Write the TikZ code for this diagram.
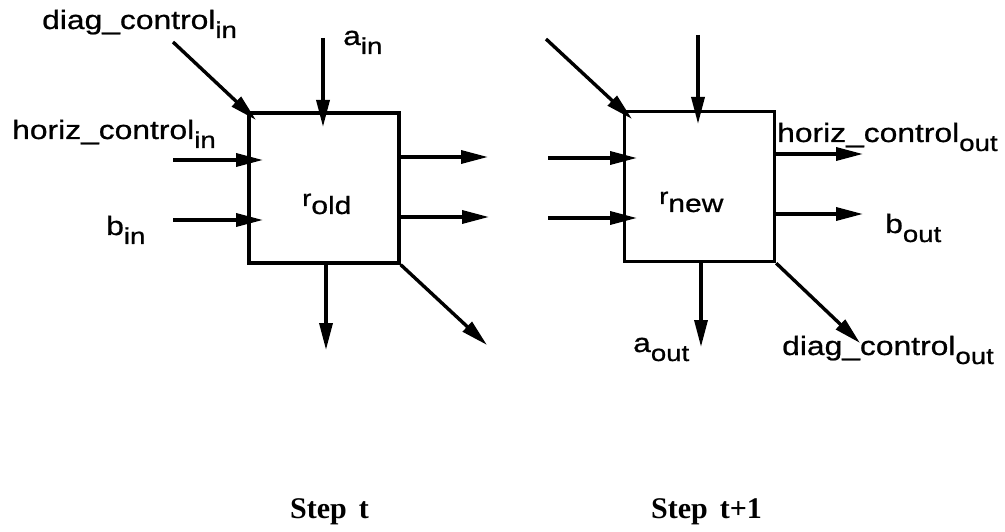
\documentclass[tikz,border=0pt]{standalone}
\usepackage{fontspec}
\usetikzlibrary{arrows.meta}
\newfontfamily\lblfont{Liberation Sans}[FakeStretch=1.2, FakeBold=0.8]
\newfontfamily\stepfont{Liberation Serif}
\newcommand\subtxt[1]{\raisebox{-9pt}{\fontsize{23}{27}\selectfont #1}}
\newcommand\regtxt[1]{\raisebox{-8pt}{\fontsize{25}{29}\selectfont #1}}
\tikzset{
  lbl/.style={inner sep=0pt, anchor=base west, font=\lblfont\fontsize{26.5}{30}\selectfont},
  steplbl/.style={inner sep=0pt, anchor=base west, font=\stepfont\bfseries\fontsize{30}{34}\selectfont},
  cell/.style={draw, line width=3.4pt, minimum width=150pt, minimum height=150pt, inner sep=0pt},
  arr/.style={line width=3.4pt, -{Triangle[length=27pt,width=13pt]}},
}
\begin{document}
\begin{tikzpicture}[x=1pt,y=-1pt]
\useasboundingbox (0,0) rectangle (1005,532);

% the two register cells
\node[cell] (old) at (324,188) {};
\node[cell] (new) at (699.5,186.5) {};

% labels of step t
\node[lbl] (dci) at (42,29) {diag\_control\subtxt{in}};
\node[lbl] (ain) at (343,45) {a\subtxt{in}};
\node[lbl] (hci) at (12,139) {horiz\_control\subtxt{in}};
\node[lbl] (bin) at (106,235) {b\subtxt{in}};
\node[lbl, font=\lblfont\fontsize{23}{27}\selectfont] (rold) at (302,206) {r\regtxt{old}};

% labels of step t+1
\node[lbl, font=\lblfont\fontsize{23}{27}\selectfont] (rnew) at (659,204) {r\regtxt{new}};
\node[lbl] (hco) at (777,142) {horiz\_control\subtxt{out}};
\node[lbl] (bout) at (885,233) {b\subtxt{out}};
\node[lbl] (aout) at (633,352) {a\subtxt{out}};
\node[lbl] (dco) at (782,355) {diag\_control\subtxt{out}};

\node[steplbl] (st) at (290,518) {Step\hspace{12pt}t};
\node[steplbl] (st1) at (651,518) {Step\hspace{12pt}t+1};

% free ends of the connectors, step t
\coordinate (Ld0) at (173,42);   \coordinate (Ld1) at (256,120);
\coordinate (La0) at (323,38);   \coordinate (La1) at (323,127);
\coordinate (Lh0) at (173,160);  \coordinate (Lh1) at (263,160);
\coordinate (Lb0) at (173,220);  \coordinate (Lb1) at (263,220);
\coordinate (Lo1) at (488,157);
\coordinate (Lo2) at (489,217);
\coordinate (Lv1) at (326,350);
\coordinate (Lx1) at (487,345);

% free ends of the connectors, step t+1
\coordinate (Rd0) at (546,39);   \coordinate (Rd1) at (632,119);
\coordinate (Ra0) at (698,35);   \coordinate (Ra1) at (698,124);
\coordinate (Rh0) at (548,158);  \coordinate (Rh1) at (637,158);
\coordinate (Rb0) at (548,218);  \coordinate (Rb1) at (637,218);
\coordinate (Ro1) at (863,154);
\coordinate (Ro2) at (863,214);
\coordinate (Rv1) at (701,347);
\coordinate (Rx1) at (860,343);

% connectors into and out of r_old
\draw[arr] (Ld0) -- (Ld1);
\draw[arr] (La0) -- (La1);
\draw[arr] (Lh0) -- (Lh1);
\draw[arr] (Lb0) -- (Lb1);
\draw[arr] (old.east |- Lo1) -- (Lo1);
\draw[arr] (old.east |- Lo2) -- (Lo2);
\draw[arr] (old.south -| Lv1) -- (Lv1);
\draw[arr] (old.south east) -- (Lx1);

% connectors into and out of r_new
\draw[arr] (Rd0) -- (Rd1);
\draw[arr] (Ra0) -- (Ra1);
\draw[arr] (Rh0) -- (Rh1);
\draw[arr] (Rb0) -- (Rb1);
\draw[arr] (new.east |- Ro1) -- (Ro1);
\draw[arr] (new.east |- Ro2) -- (Ro2);
\draw[arr] (new.south -| Rv1) -- (Rv1);
\draw[arr] (new.south east) -- (Rx1);
\end{tikzpicture}
\end{document}
